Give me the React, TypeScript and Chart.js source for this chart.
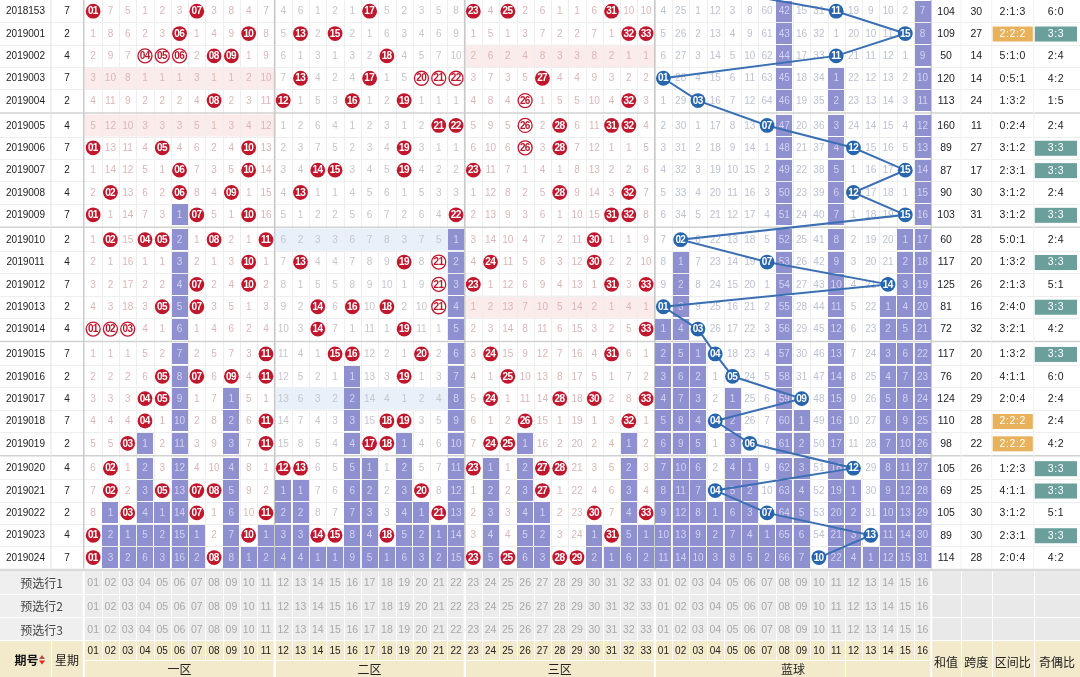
import React, { useEffect, useRef } from "react";
import { Chart, registerables } from "chart.js";
Chart.register(...registerables);

// ---------------- data ----------------
const periods = ["2018153","2019001","2019002","2019003","2019004","2019005","2019006","2019007","2019008","2019009","2019010","2019011","2019012","2019013","2019014","2019015","2019016","2019017","2019018","2019019","2019020","2019021","2019022","2019023","2019024"];
const weekdays = [7,2,4,7,2,4,7,2,4,7,2,4,7,2,4,7,2,4,7,2,4,7,2,4,7];
const redDraws = [
  [1,7,17,23,25,31],
  [6,10,13,15,32,33],
  [4,5,6,8,9,18],
  [13,17,20,21,22,27],
  [8,12,16,19,26,32],
  [21,22,26,28,31,32],
  [1,5,10,19,26,28],
  [6,10,14,15,19,23],
  [2,6,9,13,28,32],
  [1,7,10,22,31,32],
  [2,4,5,8,11,30],
  [10,13,19,21,24,30],
  [7,10,21,23,31,33],
  [5,7,14,16,18,21],
  [1,2,3,14,19,33],
  [11,15,16,20,24,31],
  [5,7,9,11,19,25],
  [4,5,24,28,30,33],
  [4,11,18,19,26,32],
  [3,11,17,18,24,25],
  [2,12,13,23,27,28],
  [2,5,7,8,20,27],
  [3,7,11,21,30,33],
  [1,10,14,15,18,31],
  [1,8,23,25,28,29],
];
const blueDraws = [11,15,11,1,3,7,12,15,12,15,2,7,14,1,3,4,5,9,4,6,12,4,7,13,10];
const previousBlue = 3; // draw 2018152 (row above, cut off)
// omission counts shown in the first row (2018153)
const redOmissionStart = [0,7,5,1,2,3,0,3,8,4,7, 4,6,1,2,1,0,5,2,3,5,8, 0,4,0,2,6,1,1,6,0,10,10];
const blueOmissionStart = [4,25,1,12,3,8,60,42,15,31,0,19,9,10,2,7];
const sums = [104,109,50,120,113,160,89,87,90,103,60,117,125,81,72,117,76,124,110,98,105,69,105,89,114];
const spans = [30,27,14,14,24,11,27,17,30,31,28,20,26,16,32,20,20,29,28,22,26,25,30,30,28];
const zoneRatios = ["2:1:3","2:2:2","5:1:0","0:5:1","1:3:2","0:2:4","3:1:2","2:3:1","3:1:2","3:1:2","5:0:1","1:3:2","2:1:3","2:4:0","3:2:1","1:3:2","4:1:1","2:0:4","2:2:2","2:2:2","1:2:3","4:1:1","3:1:2","2:3:1","2:0:4"];
const oddEvenRatios = ["6:0","3:3","2:4","4:2","1:5","2:4","3:3","3:3","2:4","3:3","2:4","3:3","5:1","3:3","4:2","3:3","6:0","2:4","2:4","4:2","3:3","3:3","5:1","3:3","4:2"];
const ringedReds = [["2019002",4],["2019002",5],["2019002",6],["2019003",20],["2019003",21],["2019003",22],["2019004",26],["2019005",26],["2019006",26],["2019011",21],["2019012",21],["2019013",21],["2019014",1],["2019014",2],["2019014",3]];
const preselectLabels = ["预选行1","预选行2","预选行3"];
const zoneLabels = ["一区","二区","三区","蓝球"];
const statHeaders = ["和值","跨度","区间比","奇偶比"];
const issueHeader = "期号";
const weekHeader = "星期";

// ---------------- layout (not data) ----------------
const W = 1080, H = 677;
const COL_PX = 17.28, ROW_PX = 22.35;
const X_MAX = W / COL_PX, Y_MAX = H / ROW_PX;
const ux = (px) => px / COL_PX;
const uy = (px) => px / ROW_PX;
const GAP = uy(2.5);
const WEEK_L = ux(51), SEP_L = ux(83), NUM_L = ux(84.5);
const BLUE_L = NUM_L + 33, NUM_R = BLUE_L + 16;
const STAT_B = [NUM_R, ux(961), ux(991.7), ux(1033.8), X_MAX];
const rowTop = (r) => r + Math.floor(r / 5) * GAP;
const rowMid = (r) => rowTop(r) + 0.5;
const DATA_END = rowTop(periods.length - 1) + 1;
const PRE_TOP = uy(571.5), PRE_H = uy(23.2);
const HEAD_TOP = PRE_TOP + 3 * PRE_H;
const HEAD_MID = uy(660);
const redX = (n) => NUM_L + n - 0.5;
const blueX = (n) => BLUE_L + n - 0.5;
const pad = (n) => (n < 10 ? "0" : "") + n;

const NUMF = '"Liberation Sans", Arial, sans-serif';
const CJK = '"Noto Sans CJK SC", "Noto Sans", sans-serif';

function buildModel() {
  const nR = periods.length;
  const redOm = [], blueOm = [];
  const redLast = new Array(34).fill(-1), blueLast = new Array(17).fill(-1);
  for (let r = 0; r < nR; r++) {
    const rr = [], rb = [];
    for (let n = 1; n <= 33; n++) {
      const hit = redDraws[r].includes(n);
      if (hit) redLast[n] = r;
      rr.push(hit ? 0 : r === 0 ? redOmissionStart[n - 1] : redOm[r - 1][n - 1] + 1);
    }
    for (let n = 1; n <= 16; n++) {
      const hit = blueDraws[r] === n;
      if (hit) blueLast[n] = r;
      rb.push(hit ? 0 : r === 0 ? blueOmissionStart[n - 1] : blueOm[r - 1][n - 1] + 1);
    }
    redOm.push(rr); blueOm.push(rb);
  }
  const purple = [], red = [], ring = [], blue = [];
  for (let r = 0; r < nR; r++) {
    for (let n = 1; n <= 33; n++) if (r > redLast[n]) purple.push({ x: redX(n), y: rowMid(r) });
    for (let n = 1; n <= 16; n++) if (r > blueLast[n]) purple.push({ x: blueX(n), y: rowMid(r) });
    redDraws[r].forEach((n) => {
      const isRing = ringedReds.some(([p, m]) => p === periods[r] && m === n);
      (isRing ? ring : red).push({ x: redX(n), y: rowMid(r), n });
    });
    blue.push({ x: blueX(blueDraws[r]), y: rowMid(r), n: blueDraws[r] });
  }
  const blueLine = [{ x: blueX(previousBlue), y: rowMid(-1) }, ...blue.map((p) => ({ x: p.x, y: p.y }))];
  return { redOm, blueOm, redLast, blueLast, purple, red, ring, blue, blueLine };
}

function makePlugin(model) {
  return {
    id: "ssqTable",
    beforeDatasetsDraw(chart) {
      const ctx = chart.ctx;
      const X = (v) => chart.scales.x.getPixelForValue(v);
      const Y = (v) => chart.scales.y.getPixelForValue(v);
      ctx.save();
      ctx.fillStyle = "#ffffff";
      ctx.fillRect(0, 0, W, H);
      // empty zone shading
      periods.forEach((_, r) => {
        for (let z = 0; z < 3; z++) {
          const cnt = redDraws[r].filter((n) => n > 11 * z && n <= 11 * (z + 1)).length;
          if (cnt === 0) {
            ctx.fillStyle = z === 1 ? "#e8f0fa" : "#fcebeb";
            const x0 = X(NUM_L + 11 * z), x1 = X(NUM_L + 11 * z + 11);
            ctx.fillRect(x0, Y(rowTop(r)), x1 - x0, Y(rowTop(r) + 1) - Y(rowTop(r)));
          }
        }
      });
      // faint grid
      ctx.lineWidth = 1;
      ctx.strokeStyle = "#eeeeee";
      ctx.beginPath();
      for (let c = 1; c < 49; c++) {
        const x = Math.round(X(NUM_L + c)) + 0.5;
        ctx.moveTo(x, 0); ctx.lineTo(x, Y(DATA_END));
      }
      for (let r = 0; r < periods.length; r++) {
        if (r % 5 === 4) continue;
        const y = Math.round(Y(rowTop(r) + 1)) + 0.5;
        ctx.moveTo(0, y); ctx.lineTo(W, y);
      }
      ctx.stroke();
      // group separators
      ctx.strokeStyle = "#d2d2d2";
      ctx.lineWidth = 1.5;
      ctx.beginPath();
      for (let r = 4; r < periods.length - 1; r += 5) {
        const y = (Y(rowTop(r) + 1) + Y(rowTop(r + 1))) / 2;
        ctx.moveTo(0, y); ctx.lineTo(W, y);
      }
      ctx.stroke();
      // vertical separators
      const vline = (xv, color, w) => {
        ctx.strokeStyle = color; ctx.lineWidth = w;
        ctx.beginPath(); ctx.moveTo(X(xv), 0); ctx.lineTo(X(xv), Y(DATA_END)); ctx.stroke();
      };
      vline(WEEK_L, "#e2e2e2", 1);
      vline((SEP_L + NUM_L) / 2, "#cbcbcb", 1.5);
      vline(NUM_L + 11, "#c9c9c9", 1.5);
      vline(NUM_L + 22, "#c9c9c9", 1.5);
      vline(BLUE_L, "#c9c9c9", 1.5);
      vline(NUM_R, "#c9c9c9", 1.5);
      for (let i = 1; i < 4; i++) vline(STAT_B[i], "#f0f0f0", 1);
      ctx.restore();
    },
    afterDatasetDraw(chart, args) {
      if (args.index !== 0) return;
      const ctx = chart.ctx;
      const X = (v) => chart.scales.x.getPixelForValue(v);
      const Y = (v) => chart.scales.y.getPixelForValue(v);
      ctx.save();
      ctx.font = "10px " + NUMF;
      ctx.textAlign = "center";
      ctx.textBaseline = "middle";
      for (let r = 0; r < periods.length; r++) {
        const y = Y(rowMid(r)) + 0.5;
        for (let n = 1; n <= 33; n++) {
          const v = model.redOm[r][n - 1];
          if (v === 0) continue;
          const purple = r > model.redLast[n];
          const z = Math.floor((n - 1) / 11);
          ctx.fillStyle = purple ? "#d3d3f3" : z === 1 ? "#c4c6cc" : "#dbb6b6";
          ctx.fillText(String(v), X(redX(n)), y);
        }
        for (let n = 1; n <= 16; n++) {
          const v = model.blueOm[r][n - 1];
          if (v === 0) continue;
          const purple = r > model.blueLast[n];
          ctx.fillStyle = purple ? "#d3d3f3" : "#bcc2d2";
          ctx.fillText(String(v), X(blueX(n)), y);
        }
      }
      ctx.restore();
    },
    afterDatasetsDraw(chart) {
      const ctx = chart.ctx;
      const X = (v) => chart.scales.x.getPixelForValue(v);
      const Y = (v) => chart.scales.y.getPixelForValue(v);
      ctx.save();
      ctx.textAlign = "center";
      ctx.textBaseline = "middle";
      // ball labels
      ctx.font = "bold 10px " + NUMF;
      ctx.letterSpacing = "-0.6px";
      [2, 3, 4].forEach((di) => {
        const meta = chart.getDatasetMeta(di);
        const ds = chart.data.datasets[di].data;
        ctx.fillStyle = di === 3 ? "#b81a2c" : "#ffffff";
        meta.data.forEach((pt, k) => ctx.fillText(pad(ds[k].n), pt.x - 0.3, pt.y + 0.5));
      });
      ctx.letterSpacing = "0px";
      // left columns & stats
      for (let r = 0; r < periods.length; r++) {
        const y = Y(rowMid(r)) + 0.5;
        ctx.fillStyle = "#222";
        ctx.font = "10px " + NUMF;
        ctx.fillText(periods[r], X(WEEK_L / 2), y);
        ctx.fillText(String(weekdays[r]), X((WEEK_L + SEP_L) / 2), y);
        ctx.font = "10.5px " + NUMF;
        ctx.fillText(String(sums[r]), X((STAT_B[0] + STAT_B[1]) / 2), y);
        ctx.fillText(String(spans[r]), X((STAT_B[1] + STAT_B[2]) / 2), y);
        ctx.letterSpacing = "0.6px";
        const zr = zoneRatios[r];
        if (zr === "2:2:2") {
          ctx.fillStyle = "#e8b25c";
          ctx.fillRect(X(STAT_B[2]) + 1, y - 7.5, X(STAT_B[3]) - X(STAT_B[2]) - 2, 15);
          ctx.fillStyle = "#ffffff";
        } else ctx.fillStyle = "#222";
        ctx.fillText(zr, X((STAT_B[2] + STAT_B[3]) / 2), y);
        const oe = oddEvenRatios[r];
        if (oe === "3:3") {
          ctx.fillStyle = "#6b9f9c";
          ctx.fillRect(X(STAT_B[3]) + 1, y - 7.5, X(STAT_B[4]) - X(STAT_B[3]) - 4, 15);
          ctx.fillStyle = "#ffffff";
        } else ctx.fillStyle = "#222";
        ctx.fillText(oe, X((STAT_B[3] + STAT_B[4]) / 2) - 1, y);
        ctx.letterSpacing = "0px";
      }
      // footer: separator
      ctx.fillStyle = "#dadada";
      ctx.fillRect(0, Y(DATA_END), W, Y(PRE_TOP) - Y(DATA_END));
      // preselect rows
      for (let k = 0; k < 3; k++) {
        const y0 = Y(PRE_TOP + k * PRE_H), y1 = Y(PRE_TOP + (k + 1) * PRE_H);
        ctx.fillStyle = "#efefef"; ctx.fillRect(0, y0, X(NUM_L), y1 - y0);
        ctx.fillStyle = "#ececec"; ctx.fillRect(X(NUM_L), y0, X(NUM_R) - X(NUM_L), y1 - y0);
        ctx.fillStyle = "#e9e9e9"; ctx.fillRect(X(NUM_R), y0, W - X(NUM_R), y1 - y0);
        ctx.fillStyle = "#444";
        ctx.font = "12px " + CJK;
        ctx.fillText(preselectLabels[k], X(SEP_L / 2), (y0 + y1) / 2 + 0.5);
        ctx.font = "10.5px " + NUMF;
        ctx.fillStyle = "#a8a8a8";
        for (let n = 1; n <= 33; n++) ctx.fillText(pad(n), X(redX(n)), (y0 + y1) / 2 + 0.5);
        for (let n = 1; n <= 16; n++) ctx.fillText(pad(n), X(blueX(n)), (y0 + y1) / 2 + 0.5);
      }
      // header
      const hy0 = Y(HEAD_TOP), hym = Y(HEAD_MID);
      ctx.fillStyle = "#f3e9cb";
      ctx.fillRect(0, hy0, W, H - hy0);
      // white grid lines in footer
      ctx.strokeStyle = "#ffffff";
      ctx.lineWidth = 1;
      ctx.beginPath();
      for (let k = 1; k <= 3; k++) {
        const y = Math.round(Y(PRE_TOP + k * PRE_H)) - 0.5;
        ctx.moveTo(0, y); ctx.lineTo(W, y);
      }
      for (let c = 1; c < 49; c++) {
        const x = Math.round(X(NUM_L + c)) + 0.5;
        ctx.moveTo(x, Y(PRE_TOP)); ctx.lineTo(x, c % 11 === 0 || c === 33 ? H : hym);
      }
      const ym = Math.round(hym) + 0.5;
      ctx.moveTo(X(NUM_L), ym); ctx.lineTo(X(NUM_R), ym);
      [WEEK_L].forEach((b) => { const x = Math.round(X(b)) + 0.5; ctx.moveTo(x, hy0); ctx.lineTo(x, H); });
      STAT_B.slice(1, 4).forEach((b) => { const x = Math.round(X(b)) + 0.5; ctx.moveTo(x, Y(PRE_TOP)); ctx.lineTo(x, H); });
      ctx.stroke();
      ctx.lineWidth = 2;
      ctx.beginPath();
      [(SEP_L + NUM_L) / 2, NUM_L + 11, NUM_L + 22, BLUE_L, NUM_R].forEach((b) => {
        ctx.moveTo(X(b), Y(PRE_TOP)); ctx.lineTo(X(b), H);
      });
      ctx.stroke();
      // header texts
      const hc = (hy0 + H) / 2;
      ctx.fillStyle = "#111";
      ctx.font = "bold 12px " + CJK;
      ctx.textAlign = "right";
      ctx.fillText(issueHeader, X(WEEK_L / 2) + 13, hc + 1);
      // sort icon
      const ix = X(WEEK_L / 2) + 16.5;
      ctx.fillStyle = "#a55";
      ctx.beginPath(); ctx.moveTo(ix - 3, hc); ctx.lineTo(ix + 3, hc); ctx.lineTo(ix, hc - 4); ctx.closePath(); ctx.fill();
      ctx.fillStyle = "#e22";
      ctx.beginPath(); ctx.moveTo(ix - 3, hc + 1.5); ctx.lineTo(ix + 3, hc + 1.5); ctx.lineTo(ix, hc + 5.5); ctx.closePath(); ctx.fill();
      ctx.textAlign = "center";
      ctx.fillStyle = "#222";
      ctx.font = "12px " + CJK;
      ctx.fillText(weekHeader, X((WEEK_L + SEP_L) / 2), hc + 1);
      ctx.font = "10px " + NUMF;
      const ny = (hy0 + hym) / 2 + 0.5;
      for (let n = 1; n <= 33; n++) ctx.fillText(pad(n), X(redX(n)), ny);
      for (let n = 1; n <= 16; n++) ctx.fillText(pad(n), X(blueX(n)), ny);
      ctx.font = "12px " + CJK;
      const ly = (hym + H) / 2 + 1;
      zoneLabels.forEach((lab, i) => {
        const a = NUM_L + 11 * i, b = i < 3 ? a + 11 : NUM_R;
        ctx.fillText(lab, X((a + b) / 2), ly);
      });
      statHeaders.forEach((lab, i) => ctx.fillText(lab, X((STAT_B[i] + STAT_B[i + 1]) / 2), hc + 3));
      ctx.restore();
    },
  };
}

export default function App() {
  const ref = useRef(null);
  useEffect(() => {
    const canvas = ref.current;
    const model = buildModel();
    const cellImg = document.createElement("canvas");
    cellImg.width = 16;
    cellImg.height = 21;
    const c2 = cellImg.getContext("2d");
    c2.fillStyle = "#8f90cf";
    c2.fillRect(0, 0, 16, 21);
    const chart = new Chart(canvas, {
      type: "scatter",
      data: {
        datasets: [
          { label: "遗漏分层", data: model.purple, pointStyle: cellImg, pointRadius: 1, pointHoverRadius: 1, order: 4 },
          { label: "蓝球走势", data: model.blueLine, showLine: true, borderColor: "#3b6fb3", borderWidth: 2, pointRadius: 0, pointHoverRadius: 0, tension: 0, order: 3 },
          { label: "红球", data: model.red, pointRadius: 7.4, pointHoverRadius: 7.4, pointBackgroundColor: "#c0172d", pointBorderColor: "#c0172d", pointBorderWidth: 0, order: 2 },
          { label: "红球三连", data: model.ring, pointRadius: 7, pointHoverRadius: 7, pointBackgroundColor: "#ffffff", pointBorderColor: "#c0172d", pointBorderWidth: 1.3, order: 2 },
          { label: "蓝球", data: model.blue, pointRadius: 7.4, pointHoverRadius: 7.4, pointBackgroundColor: "#2766ad", pointBorderColor: "#2766ad", pointBorderWidth: 0, order: 1 },
        ],
      },
      options: {
        responsive: false,
        animation: false,
        devicePixelRatio: 1,
        events: [],
        layout: { padding: 0, autoPadding: false },
        plugins: { legend: { display: false }, tooltip: { enabled: false } },
        scales: {
          x: { type: "linear", min: 0, max: X_MAX, display: false },
          y: { type: "linear", min: 0, max: Y_MAX, reverse: true, display: false },
        },
      },
      plugins: [makePlugin(model)],
    });
    return () => chart.destroy();
  }, []);
  return (
    <div style={{ position: "absolute", left: 0, top: 0, width: W, height: H }}>
      <canvas ref={ref} width={W} height={H} style={{ display: "block" }} />
    </div>
  );
}
